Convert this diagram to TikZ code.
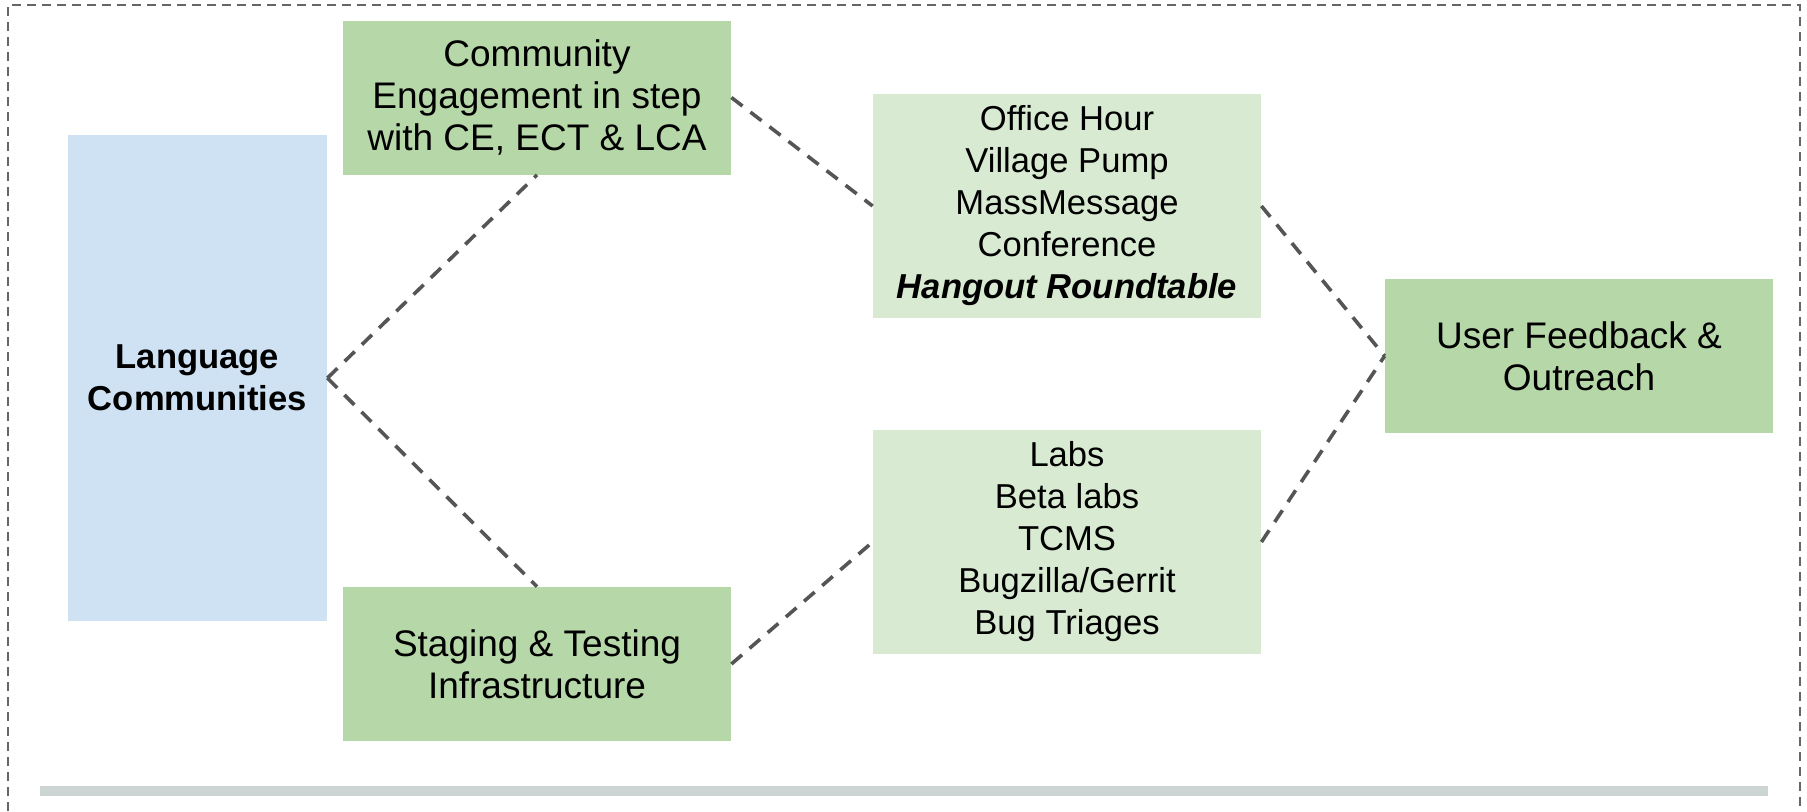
\documentclass[tikz,border=0pt]{standalone}
\usepackage{fontspec}
\setmainfont{Liberation Sans}
\definecolor{boxgreen}{HTML}{B6D7A8}
\definecolor{boxpale}{HTML}{D9EAD3}
\definecolor{boxblue}{HTML}{CFE2F3}
\definecolor{linegray}{HTML}{555555}
\definecolor{framegray}{HTML}{666666}
\definecolor{bargray}{HTML}{CDD4D4}
\begin{document}
\begin{tikzpicture}[
    x=0.5pt, y=-0.5pt,
    every node/.style={inner sep=0pt, align=center},
    bigbox/.style={rectangle, fill=boxgreen, minimum width=194pt, minimum height=77pt, font=\fontsize{18.5}{21}\selectfont},
    listbox/.style={rectangle, fill=boxpale, minimum width=194pt, minimum height=112pt, font=\fontsize{17.3}{21}\selectfont},
    link/.style={draw=linegray, line width=1.8pt, dash pattern=on 7pt off 5pt}
]
    \useasboundingbox (0,0) rectangle (1807,811);
    % outer frame, open at the bottom
    \draw[framegray, line width=0.75pt, dash pattern=on 4.5pt off 3pt] (8,811) -- (8,5) -- (1800,5) -- (1800,811);
    \fill[bargray] (40,786) rectangle (1768,796);

    \node [rectangle, fill=boxblue, minimum width=129.5pt, minimum height=243pt, font=\fontsize{17.3}{21}\selectfont\bfseries]
        (lang) at (197.5,378) {Language\\Communities};
    \node [bigbox] (engage) at (537,97.5) {Community\\Engagement in step\\with CE, ECT \& LCA};
    \node [bigbox] (staging) at (537,664) {Staging \& Testing\\Infrastructure};
    \node [listbox] (meetings) at (1067,206) {Office Hour\\Village Pump\\MassMessage\\Conference\\\textbf{\textit{Hangout Roundtable}}};
    \node [listbox] (testing) at (1067,542) {Labs\\Beta labs\\TCMS\\Bugzilla/Gerrit\\Bug Triages};
    \node [bigbox] (feedback) at (1579,356) {User Feedback \&\\Outreach};

    \draw [link] (lang.east) -- (engage.south);
    \draw [link] (lang.east) -- (staging.north);
    \draw [link] (engage.east) -- (meetings.west);
    \draw [link] (staging.east) -- (testing.west);
    \draw [link] (meetings.east) -- (feedback.west);
    \draw [link] (testing.east) -- (feedback.west);
\end{tikzpicture}
\end{document}
